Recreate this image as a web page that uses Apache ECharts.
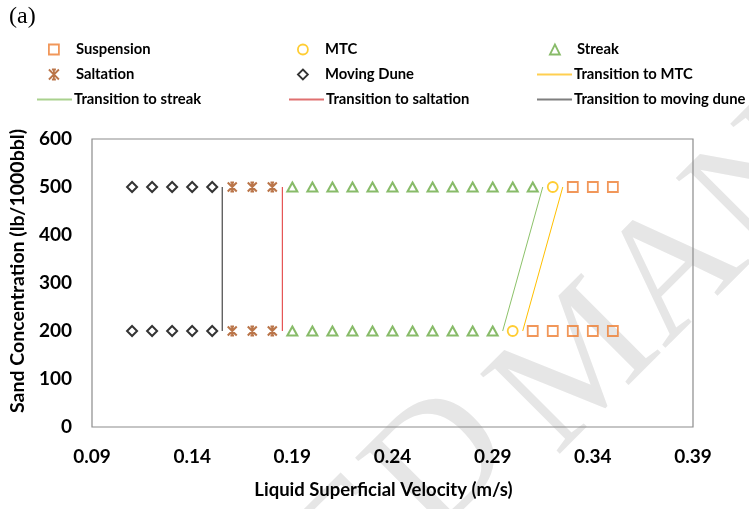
<!DOCTYPE html>
<html>
<head>
<meta charset="utf-8">
<script src="https://cdn.jsdelivr.net/npm/echarts@6/dist/echarts.min.js"></script>
<style>
html,body{margin:0;padding:0;background:#fff;}
#chart{width:749px;height:509px;}
</style>
</head>
<body>
<div id="chart"></div>
<script>
// ---- data ----
const suspension = [[0.31,200],[0.32,200],[0.33,200],[0.34,200],[0.35,200],[0.33,500],[0.34,500],[0.35,500]];
const mtc = [[0.30,200],[0.32,500]];
const streak = [[0.19,200],[0.20,200],[0.21,200],[0.22,200],[0.23,200],[0.24,200],[0.25,200],[0.26,200],[0.27,200],[0.28,200],[0.29,200],
                [0.19,500],[0.20,500],[0.21,500],[0.22,500],[0.23,500],[0.24,500],[0.25,500],[0.26,500],[0.27,500],[0.28,500],[0.29,500],[0.30,500],[0.31,500]];
const saltation = [[0.16,200],[0.17,200],[0.18,200],[0.16,500],[0.17,500],[0.18,500]];
const movingDune = [[0.11,200],[0.12,200],[0.13,200],[0.14,200],[0.15,200],[0.11,500],[0.12,500],[0.13,500],[0.14,500],[0.15,500]];
const transMTC = [[0.305,200],[0.325,500]];
const transStreak = [[0.295,200],[0.315,500]];
const transSaltation = [[0.185,200],[0.185,500]];
const transDune = [[0.155,200],[0.155,500]];
const xTicks = [0.09,0.14,0.19,0.24,0.29,0.34,0.39];

const FONT = 'Lato';
const C = {
  susp:'#ED7D31', mtc:'#FFC000', streak:'#6AAA44', salt:'#A9521C', dune:'#000000',
  lMTC:'#FFC000', lStreak:'#8DC26A', lSalt:'#E03030', lDune:'#222222'
};
const legendLineC = {lMTC:'#FFCF50', lStreak:'#A9D18E', lSalt:'#E07070', lDune:'#7F7F7F'};
const starPath = 'path://M0,0 L10,10 M10,0 L0,10 M5,0 L5,10 M3,0 L7,0 M3,10 L7,10';

function hollow(c, w){ return {color:'rgba(0,0,0,0)', borderColor:c, borderWidth:w||1.6}; }

const legendText = {fontFamily:FONT, fontWeight:'bold', fontSize:14.8, color:'#000'};
function markerLegend(name, icon, c, left, top){
  return {left:left, top:top, itemWidth:10, itemHeight:10, selectedMode:false,
    data:[{name:name, icon:icon, itemStyle:hollow(c,1.8)}],
    textStyle:Object.assign({padding:[0,0,0,12]}, legendText)};
}
function lineLegend(name, c, left, top){
  return {left:left, top:top, itemWidth:35, itemHeight:2, selectedMode:false,
    data:[{name:name, icon:'rect', itemStyle:{color:c, borderWidth:0}}],
    textStyle:Object.assign({padding:[0,0,0,-3]}, legendText)};
}

const chart = echarts.init(document.getElementById('chart'), null, {renderer:'canvas'});
const option = {
  backgroundColor:'#fff',
  animation:false,
  graphic:[
    {type:'text', left:9, top:5, z:10, style:{text:'(a)', fontFamily:'Liberation Serif', fontSize:24, fill:'#000'}},
    {type:'text', x:548, y:482, rotation:Math.PI/4, z:-10, silent:true,
      style:{text:'ACCEPTED', textAlign:'right', textVerticalAlign:'bottom', fontFamily:'Liberation Serif', fontSize:172, fill:'#e6e6e6'}},
    {type:'text', x:585, y:486, rotation:Math.PI/4, z:-10, silent:true,
      style:{text:'MANUSCRIPT', textAlign:'left', textVerticalAlign:'bottom', fontFamily:'Liberation Serif', fontSize:172, fill:'#e6e6e6'}}
  ],
  legend:[
    markerLegend('Suspension','rect',C.susp,43,37),
    markerLegend('MTC','circle',C.mtc,292,37),
    markerLegend('Streak','triangle',C.streak,544,37),
    markerLegend('Saltation',starPath,C.salt,43,62),
    markerLegend('Moving Dune','diamond',C.dune,292,62),
    lineLegend('Transition to MTC',legendLineC.lMTC,532,62),
    lineLegend('Transition to streak',legendLineC.lStreak,32,87),
    lineLegend('Transition to saltation',legendLineC.lSalt,284,87),
    lineLegend('Transition to moving dune',legendLineC.lDune,532,87)
  ],
  grid:{left:92, right:56, top:139, bottom:82, show:true, borderColor:'#8c8c8c', borderWidth:1.2, backgroundColor:'rgba(0,0,0,0)'},
  xAxis:{
    type:'value', min:0.09, max:0.39,
    name:'Liquid Superficial Velocity (m/s)', nameLocation:'middle', nameGap:54,
    nameTextStyle:{fontFamily:FONT, fontWeight:'bold', fontSize:18.5, color:'#000', padding:[0,18,0,0]},
    axisLine:{show:false}, axisTick:{show:false}, splitLine:{show:false},
    axisLabel:{customValues:xTicks, formatter:(v)=>v.toFixed(2), margin:20, fontFamily:FONT, fontWeight:'bold', fontSize:19, color:'#000'}
  },
  yAxis:{
    type:'value', min:0, max:600, interval:100,
    name:'Sand Concentration (lb/1000bbl)', nameLocation:'middle', nameGap:64,
    nameTextStyle:{fontFamily:FONT, fontWeight:'bold', fontSize:19.5, color:'#000', padding:[0,0,0,24]},
    axisLine:{show:false}, axisTick:{show:false}, splitLine:{show:false},
    axisLabel:{margin:20, fontFamily:FONT, fontWeight:'bold', fontSize:19, color:'#000'}
  },
  series:[
    {name:'Suspension', type:'scatter', data:suspension, symbol:'rect', symbolSize:10, itemStyle:hollow(C.susp,1.8), z:5},
    {name:'MTC', type:'scatter', data:mtc, symbol:'circle', symbolSize:10, itemStyle:hollow(C.mtc,1.8), z:5},
    {name:'Streak', type:'scatter', data:streak, symbol:'triangle', symbolSize:[10,9], itemStyle:hollow(C.streak,2), z:5},
    {name:'Saltation', type:'scatter', data:saltation, symbol:starPath, symbolSize:9, itemStyle:hollow(C.salt,2), z:5},
    {name:'Moving Dune', type:'scatter', data:movingDune, symbol:'diamond', symbolSize:10, itemStyle:hollow(C.dune,2), z:5},
    {name:'Transition to MTC', type:'line', data:transMTC, showSymbol:false, symbol:'none', lineStyle:{color:C.lMTC, width:1}, itemStyle:{color:C.lMTC}, z:4},
    {name:'Transition to streak', type:'line', data:transStreak, showSymbol:false, symbol:'none', lineStyle:{color:C.lStreak, width:1}, itemStyle:{color:C.lStreak}, z:4},
    {name:'Transition to saltation', type:'line', data:transSaltation, showSymbol:false, symbol:'none', lineStyle:{color:C.lSalt, width:1}, itemStyle:{color:C.lSalt}, z:4},
    {name:'Transition to moving dune', type:'line', data:transDune, showSymbol:false, symbol:'none', lineStyle:{color:C.lDune, width:1}, itemStyle:{color:C.lDune}, z:4}
  ]
};
chart.setOption(option);
</script>
</body>
</html>
